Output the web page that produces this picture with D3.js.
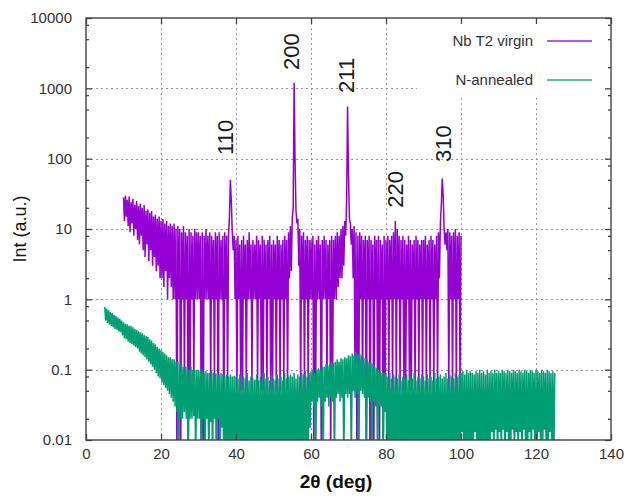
<!DOCTYPE html>
<html><head><meta charset="utf-8">
<script src="https://cdn.jsdelivr.net/npm/d3@7"></script>
<style>
body{margin:0;background:#fff}
svg{display:block}
text{font-family:"Liberation Sans",Arial,sans-serif}
</style>
</head><body><svg id="c" width="633" height="496"></svg>
<script>
// ---------------- data ----------------
const seriesNames = ["Nb T2 virgin", "N-annealed"];
const seriesColors = ["#9400d3", "#009e73"];
const virginStart = 10, annealedStart = 5, scanStep = 0.25;

// Nb T2 virgin, 2theta 10 .. 100 step 0.25
const virgin = [
28,13,30,15,26,11,29,9,24,12,27,8,22,10,25,7,21,6,23,8,
20,5,22,4,18,6,19,3.5,17,5,18,3,15,4,16,2.5,14,3,15,2,
13,2,14,1.5,12,2.5,13,1,11,2,12,1.5,11,1,12,1,10,0.003,11,1,
10,0.003,9,1,11,0.05,9,1,8,0.004,10,0.05,9,1,8,0.05,10,1,9,1,
9,1,8,0.003,9,0.004,8,1,10,1,8,1,9,0.05,8,1,7,0.06,9,1,
8,0.003,9,1,7,1,8,0.004,9,1,8,0.05,8,15,50,25,9,5,8,1,
7,0.05,8,1,6,0.05,7,0.05,8,1,6,0.05,7,1,9,1,6,0.05,7,1,
6,1,8,0.05,7,1,6,0.05,8,0.05,7,1,6,0.05,7,1,8,0.05,6,0.05,
7,1,6,0.05,8,1,7,0.05,6,1,7,0.05,8,1,7,0.05,9,2,11,2.5,
14,20,1200,90,18,12,14,3,10,0.05,8,1,9,0.05,7,1,8,0.05,7,1,
7,1,8,0.004,6,0.05,7,1,8,1,6,0.003,7,1,8,1,7,0.05,6,1,
7,0.004,8,0.05,7,1,8,1,9,1.5,8,2,10,2,11,3,13,8,25,550,
60,14,12,6,10,2,11,0.05,9,0.003,8,0.05,9,1,8,0.05,7,1,8,0.004,
7,1,8,0.003,7,1,6,0.004,8,1,7,0.05,8,0.003,7,1,6,0.004,8,0.05,
7,1,8,0.05,7,1,8,0.05,9,1,13,0.05,10,1,8,0.05,7,1,8,0.05,
7,0.05,6,1,8,0.05,7,0.05,6,1,7,0.05,8,1,7,0.05,6,1,7,0.05,
7,1,8,0.05,6,1,7,0.05,8,1,7,0.05,6,1,8,0.05,9,2,12,22,
52,30,10,6,9,5,10,0.05,9,1,8,0.05,9,1,10,0.05,8,1,9,0.05,
8
];

// N-annealed, 2theta 5 .. 125 step 0.25
const annealed = [
0.78,0.5,0.74,0.46,0.7,0.44,0.66,0.42,0.64,0.4,0.6,0.38,0.58,0.37,0.55,0.35,0.53,0.34,0.5,0.31,
0.47,0.28,0.45,0.27,0.44,0.25,0.42,0.24,0.42,0.23,0.4,0.22,0.38,0.21,0.37,0.2,0.35,0.18,0.34,0.17,
0.33,0.16,0.31,0.15,0.3,0.14,0.29,0.13,0.27,0.12,0.26,0.11,0.24,0.1,0.23,0.09,0.21,0.08,0.2,0.075,
0.19,0.065,0.18,0.06,0.17,0.055,0.16,0.05,0.15,0.045,0.15,0.04,0.14,0.035,0.14,0.03,0.13,0.025,0.13,0.004,
0.12,0.02,0.12,0.02,0.11,0.025,0.11,0.02,0.11,0.004,0.1,0.02,0.11,0.02,0.1,0.022,0.1,0.004,0.1,0.02,
0.1,0.02,0.095,0.004,0.1,0.02,0.09,0.004,0.095,0.02,0.09,0.004,0.09,0.018,0.095,0.004,0.09,0.02,0.088,0.004,
0.09,0.02,0.085,0.004,0.09,0.015,0.085,0.004,0.08,0.004,0.085,0.004,0.08,0.004,0.085,0.004,0.08,0.004,0.082,0.004,
0.08,0.004,0.075,0.004,0.085,0.004,0.07,0.004,0.08,0.004,0.075,0.004,0.09,0.004,0.07,0.004,0.08,0.004,0.075,0.004,
0.072,0.004,0.085,0.004,0.07,0.004,0.08,0.004,0.068,0.004,0.09,0.004,0.075,0.004,0.08,0.004,0.07,0.004,0.085,0.004,
0.075,0.004,0.07,0.004,0.085,0.004,0.075,0.004,0.08,0.004,0.07,0.004,0.09,0.004,0.075,0.004,0.08,0.004,0.085,0.004,
0.08,0.004,0.09,0.004,0.075,0.004,0.085,0.004,0.08,0.004,0.09,0.004,0.085,0.004,0.095,0.004,0.08,0.004,0.09,0.015,
0.095,0.035,0.1,0.03,0.09,0.004,0.1,0.035,0.105,0.04,0.1,0.03,0.11,0.004,0.11,0.035,0.12,0.04,0.115,0.03,
0.12,0.04,0.13,0.035,0.125,0.004,0.13,0.04,0.14,0.045,0.13,0.035,0.145,0.04,0.14,0.004,0.15,0.045,0.145,0.04,
0.16,0.045,0.155,0.004,0.17,0.05,0.16,0.04,0.18,0.045,0.165,0.004,0.17,0.05,0.16,0.045,0.15,0.04,0.145,0.004,
0.14,0.04,0.13,0.035,0.125,0.004,0.12,0.035,0.11,0.03,0.105,0.004,0.1,0.03,0.095,0.03,0.09,0.004,0.09,0.025,
0.085,0.004,0.08,0.004,0.09,0.004,0.075,0.004,0.085,0.004,0.08,0.004,0.075,0.004,0.085,0.004,0.07,0.004,0.08,0.004,
0.075,0.004,0.085,0.004,0.07,0.004,0.08,0.004,0.075,0.004,0.09,0.004,0.07,0.004,0.08,0.004,0.075,0.004,0.085,0.004,
0.08,0.004,0.07,0.004,0.085,0.004,0.075,0.004,0.08,0.004,0.07,0.004,0.09,0.004,0.075,0.004,0.08,0.004,0.085,0.004,
0.075,0.004,0.08,0.004,0.09,0.004,0.075,0.004,0.085,0.004,0.08,0.004,0.075,0.004,0.09,0.004,0.08,0.004,0.085,0.004,
0.09,0.013,0.095,0.004,0.085,0.004,0.1,0.004,0.09,0.004,0.095,0.004,0.09,0.004,0.085,0.013,0.095,0.004,0.09,0.004,
0.1,0.004,0.09,0.004,0.095,0.004,0.085,0.004,0.1,0.004,0.09,0.004,0.095,0.013,0.09,0.004,0.1,0.014,0.09,0.004,
0.095,0.013,0.09,0.004,0.1,0.014,0.095,0.004,0.09,0.013,0.1,0.004,0.095,0.004,0.09,0.014,0.1,0.004,0.095,0.013,
0.09,0.004,0.1,0.013,0.095,0.004,0.09,0.014,0.1,0.004,0.095,0.004,0.09,0.013,0.1,0.004,0.095,0.014,0.09,0.004,
0.1,0.004,0.095,0.013,0.09,0.004,0.1,0.004,0.095,0.014,0.09,0.004,0.1,0.004,0.095,0.013,0.09,0.004,0.095,0.004,
0.09
];

const xTicks = [0, 20, 40, 60, 80, 100, 120, 140];
const xGrid = [20, 40, 60, 80, 100, 120];
const yTicks = [0.01, 0.1, 1, 10, 100, 1000, 10000];
const yTickLabels = ["0.01", "0.1", "1", "10", "100", "1000", "10000"];
const yGrid = [0.1, 1, 10, 100, 1000];
const yMinorMultipliers = [2, 5, 8];

const peakLabels = ["110", "200", "211", "220", "310"];
const peakLabelAngle = [37.1, 54.7, 69.3, 82.4, 95.2];
const peakLabelInt = [113, 1820, 860, 20, 90];

const xTitle = "2θ (deg)";
const yTitle = "Int (a.u.)";

// ---------------- layout ----------------
const W = 633, H = 496;
const m = {l: 86, r: 22, t: 18, b: 56};
const pw = W - m.l - m.r, ph = H - m.t - m.b;

const svg = d3.select("#c");
const x = d3.scaleLinear().domain([0, 140]).range([m.l, m.l + pw]);
const y = d3.scaleLog().domain([0.01, 10000]).range([m.t + ph, m.t]);

// grid
const grid = svg.append("g").attr("stroke", "#9a9a9a").attr("stroke-width", 1).attr("stroke-dasharray", "2,3");
grid.selectAll("line.v").data(xGrid).join("line").attr("class", "v")
  .attr("x1", d => x(d) + 0.5).attr("x2", d => x(d) + 0.5).attr("y1", m.t).attr("y2", m.t + ph);
grid.selectAll("line.h").data(yGrid).join("line").attr("class", "h")
  .attr("x1", m.l).attr("x2", m.l + pw).attr("y1", d => Math.round(y(d)) + 0.5).attr("y2", d => Math.round(y(d)) + 0.5);

// legend background box (hides grid)
svg.append("rect").attr("x", 417).attr("y", m.t + 1).attr("width", m.l + pw - 418).attr("height", 79).attr("fill", "#fff");

// clip
svg.append("clipPath").attr("id", "clip").append("rect")
  .attr("x", m.l).attr("y", m.t).attr("width", pw).attr("height", ph);

const plot = svg.append("g").attr("clip-path", "url(#clip)");
const seriesData = [
  virgin.map((v, i) => [virginStart + i * scanStep, v]),
  annealed.map((v, i) => [annealedStart + i * scanStep, v])
];
const line = d3.line().x(d => x(d[0])).y(d => y(d[1]));
plot.selectAll("path").data(seriesData).join("path")
  .attr("d", line).attr("fill", "none")
  .attr("stroke", (d, i) => seriesColors[i]).attr("stroke-width", 1.5)
  .attr("stroke-linejoin", "bevel");

// axes (inward ticks)
const axisColor = "#444";
const fontSize = 15;
const gl = svg.append("g").attr("transform", `translate(${m.l},0)`)
  .call(d3.axisLeft(y).tickValues(yTicks).tickFormat((d, i) => yTickLabels[i]).tickSize(-6).tickPadding(14));
const gr = svg.append("g").attr("transform", `translate(${m.l + pw},0)`)
  .call(d3.axisRight(y).tickValues(yTicks).tickFormat("").tickSize(-6));
const minor = [];
yTicks.slice(0, -1).forEach(d => yMinorMultipliers.forEach(k => minor.push(d * k)));
const gl2 = svg.append("g").attr("transform", `translate(${m.l},0)`)
  .call(d3.axisLeft(y).tickValues(minor).tickFormat("").tickSize(-3));
const gr2 = svg.append("g").attr("transform", `translate(${m.l + pw},0)`)
  .call(d3.axisRight(y).tickValues(minor).tickFormat("").tickSize(-3));
const gb = svg.append("g").attr("transform", `translate(0,${m.t + ph})`)
  .call(d3.axisBottom(x).tickValues(xTicks).tickFormat(d3.format("d")).tickSize(-6).tickPadding(8));
const gt = svg.append("g").attr("transform", `translate(0,${m.t})`)
  .call(d3.axisTop(x).tickValues(xTicks).tickFormat("").tickSize(-6));
[gl, gr, gl2, gr2, gb, gt].forEach(g => {
  g.select(".domain").remove();
  g.selectAll(".tick line").attr("stroke", axisColor).attr("stroke-width", 1.3);
  g.selectAll(".tick text").attr("fill", "#333").attr("font-size", fontSize)
    .attr("font-family", '"Liberation Sans",Arial,sans-serif');
});

// frame
svg.append("rect").attr("x", m.l).attr("y", m.t).attr("width", pw).attr("height", ph)
  .attr("fill", "none").attr("stroke", axisColor).attr("stroke-width", 1.4);

// peak labels
svg.append("g").selectAll("text").data(peakLabels).join("text")
  .attr("transform", (d, i) => `translate(${x(peakLabelAngle[i])},${y(peakLabelInt[i])}) rotate(-90)`)
  .attr("dy", "0.35em").attr("text-anchor", "start")
  .attr("font-size", 22).attr("fill", "#1a1a1a").text(d => d);

// legend
const lg = svg.append("g");
seriesNames.forEach((name, i) => {
  const yy = 41 + i * 39;
  lg.append("text").attr("x", 533).attr("y", yy).attr("dy", "0.35em").attr("text-anchor", "end")
    .attr("font-size", fontSize).attr("fill", "#333").text(name);
  lg.append("line").attr("x1", 547).attr("x2", 592).attr("y1", yy).attr("y2", yy)
    .attr("stroke", seriesColors[i]).attr("stroke-width", 2).attr("stroke-opacity", 0.65);
});

// axis titles
svg.append("text").attr("x", 336).attr("y", 488).attr("text-anchor", "middle")
  .attr("font-size", 19).attr("font-weight", "bold").attr("fill", "#111").text(xTitle);
svg.append("text").attr("transform", "translate(20,229) rotate(-90)").attr("dy", "0.35em")
  .attr("text-anchor", "middle").attr("font-size", 18).attr("fill", "#111").text(yTitle);
</script>
</body></html>
